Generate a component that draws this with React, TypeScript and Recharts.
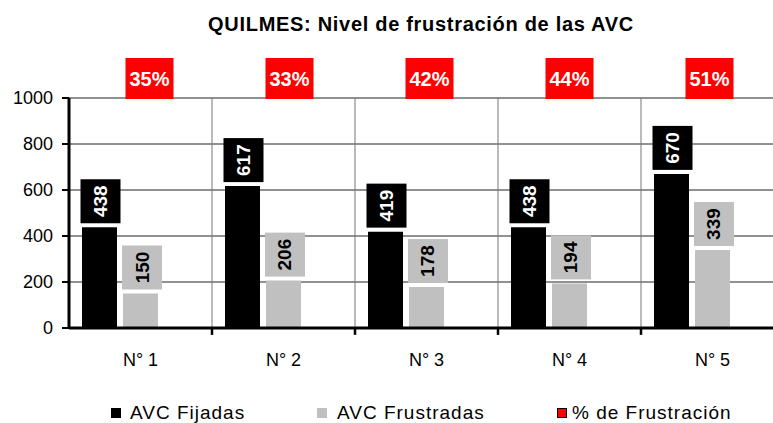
import { BarChart, Bar, XAxis, YAxis, CartesianGrid, LabelList, ReferenceLine, usePlotArea } from 'recharts'

const categories = ['N° 1', 'N° 2', 'N° 3', 'N° 4', 'N° 5']
const fijadas = [438, 617, 419, 438, 670]
const frustradas = [150, 206, 178, 194, 339]
const pctFrustracion = [35, 33, 42, 44, 51]
const yTicks = [0, 200, 400, 600, 800, 1000]

const FONT = '"Liberation Sans", Arial, sans-serif'

const rows = categories.map((c, i) => ({ cat: c, fij: fijadas[i], fru: frustradas[i], pct: pctFrustracion[i] }))

function ValueBox(props: any) {
  const { x, y, width, value, boxFill, textColor, shift } = props
  const cx = x + width / 2 + shift
  const bottom = y - 4
  return (
    <g>
      <rect x={cx - 20} y={bottom - 44} width={40} height={44} fill={boxFill} />
      <text x={cx} y={bottom - 22} transform={`rotate(-90 ${cx} ${bottom - 22})`} textAnchor="middle" dominantBaseline="central"
        fill={textColor} fontSize={19} fontWeight="bold" fontFamily={FONT}>{value}</text>
    </g>
  )
}

function PctBox(props: any) {
  const { x, width, value } = props
  const area = usePlotArea ? usePlotArea() : undefined
  const top = area ? area.y : 98
  const cx = x + width / 2
  return (
    <g>
      <rect x={cx - 24} y={top - 40} width={48} height={41} fill="#ff0000" />
      <text x={cx} y={top - 19} textAnchor="middle" dominantBaseline="central" fill="#fff" fontSize={20} fontWeight="bold" fontFamily={FONT}>{value}%</text>
    </g>
  )
}

const legendItems = [
  { name: 'AVC Fijadas', color: '#000000', sq: 111, tx: 130, border: 'none' },
  { name: 'AVC Frustradas', color: '#c0c0c0', sq: 317, tx: 337, border: 'none' },
  { name: '% de Frustración', color: '#ff0000', sq: 557, tx: 572, border: '1px solid #000' },
]

export default function App() {
  const inner = categories.slice(1)
  return (
    <div style={{ position: 'absolute', left: 0, top: 0, width: 773, height: 423, overflow: 'hidden', background: '#fff', fontFamily: FONT }}>
      <div style={{ position: 'absolute', left: 0, top: 14, width: 842, textAlign: 'center', fontSize: 20, lineHeight: '20px', fontWeight: 'bold', letterSpacing: 0.7, color: '#000' }}>
        QUILMES: Nivel de frustración de las AVC
      </div>
      <BarChart width={790} height={423} data={rows} margin={{ top: 98, right: 6, left: 0, bottom: 53 }} barSize={35} barGap={6}>
        <CartesianGrid vertical={false} stroke="#222" strokeWidth={1} />
        <XAxis xAxisId="pctx" dataKey="cat" hide padding={{ left: 10, right: 5 }} />
        <XAxis dataKey="cat" height={42} tickLine={false} axisLine={{ stroke: '#000', strokeWidth: 3 }} tickMargin={19}
          tick={{ fill: '#000', fontSize: 18, fontFamily: FONT }} />
        <YAxis domain={[0, 1000]} ticks={yTicks} width={69} tickSize={7} tickMargin={9} interval={0}
          axisLine={{ stroke: '#000', strokeWidth: 3 }} tickLine={{ stroke: '#000', strokeWidth: 2 }}
          tick={{ fill: '#000', fontSize: 18, fontFamily: FONT }} />
        <YAxis yAxisId="pct" hide domain={[0, 100]} />
        {inner.map((c) => (
          <ReferenceLine key={`g${c}`} x={c} position="start" stroke="#777" strokeWidth={1} />
        ))}
        <Bar dataKey="fij" name="AVC Fijadas" fill="#000" isAnimationActive={false}>
          <LabelList dataKey="fij" content={<ValueBox boxFill="#000" textColor="#fff" shift={1} />} />
        </Bar>
        <Bar dataKey="fru" name="AVC Frustradas" fill="#c0c0c0" isAnimationActive={false}>
          <LabelList dataKey="fru" content={<ValueBox boxFill="#c0c0c0" textColor="#000" shift={1.5} />} />
        </Bar>
        {/* empty third slot, as in the original Excel layout */}
        <Bar dataKey="pct" yAxisId="pct" fill="transparent" legendType="none" isAnimationActive={false} />
        <Bar dataKey="pct" xAxisId="pctx" yAxisId="pct" name="% de Frustración" fill="transparent" isAnimationActive={false}>
          <LabelList dataKey="pct" content={<PctBox />} />
        </Bar>
        {inner.map((c) => (
          <ReferenceLine key={`t${c}`} position="start" ifOverflow="visible" stroke="#000" strokeWidth={2.5}
            segment={[{ x: c, y: 0 }, { x: c, y: -30 }]} />
        ))}
      </BarChart>
      {legendItems.map((it) => (
        <div key={it.name}>
          <div style={{ position: 'absolute', left: it.sq, top: 408, width: 10, height: 10, background: it.color, border: it.border, boxSizing: 'border-box' }} />
          <div style={{ position: 'absolute', left: it.tx, top: 403, fontSize: 19, lineHeight: '19px', letterSpacing: 1, color: '#000', whiteSpace: 'nowrap' }}>{it.name}</div>
        </div>
      ))}
    </div>
  )
}
